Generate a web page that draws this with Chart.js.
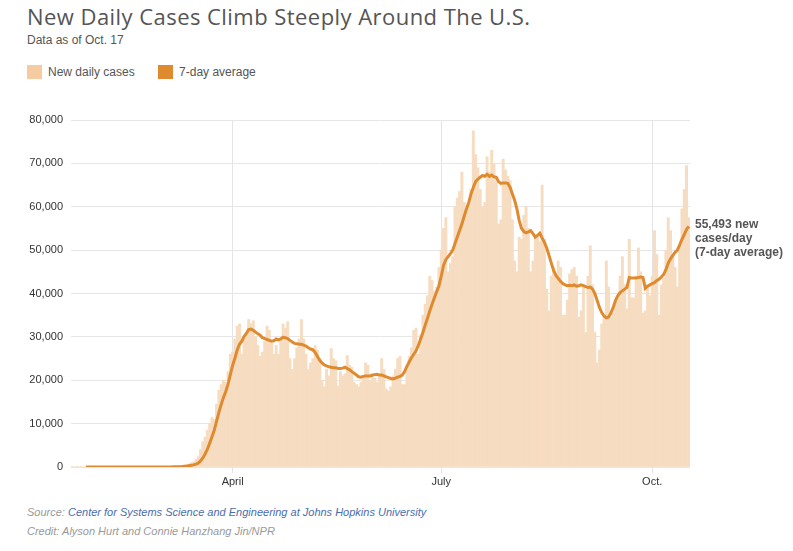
<!DOCTYPE html>
<html>
<head>
<meta charset="utf-8">
<script src="https://cdn.jsdelivr.net/npm/chart.js@4.4.1/dist/chart.umd.min.js"></script>
<style>
    body { margin: 0; background: #fff; font-family: "Liberation Sans", Arial, sans-serif; }
    #wrap { position: relative; width: 793px; height: 551px; overflow: hidden; }
    .title { position: absolute; left: 27px; top: 1px; font-family: "Open Sans", sans-serif; font-size: 22px; color: #555; letter-spacing: 0.45px; white-space: nowrap; }
    .sub { position: absolute; left: 27px; top: 33px; font-size: 12px; color: #555; }
    .legend { position: absolute; top: 65px; left: 27px; font-size: 12px; color: #555; }
    .legend span.sw { display: inline-block; width: 15px; height: 14px; vertical-align: -3px; margin-right: 6px; }
    .legend span.item { margin-right: 20px; }
    #chartBox { position: absolute; left: 0; top: 100px; width: 793px; height: 400px; }
    .note { position: absolute; left: 695px; top: 217px; font-size: 12px; font-weight: bold; color: #555; line-height: 14px; }
    .foot { position: absolute; left: 27px; font-size: 11px; font-style: italic; color: #999; }
    .foot a { color: #4a6db0; text-decoration: none; }
</style>
</head>
<body>
<div id="wrap">
    <div class="title">New Daily Cases Climb Steeply Around The U.S.</div>
    <div class="sub">Data as of Oct. 17</div>
    <div class="legend">
        <span class="item"><span class="sw" style="background:#f5cb9f"></span>New daily cases</span>
        <span class="item"><span class="sw" style="background:#e08a2f"></span>7-day average</span>
    </div>
    <div id="chartBox"><canvas id="chart"></canvas></div>
    <div class="note">55,493 new<br>cases/day<br>(7-day average)</div>
    <div class="foot" style="top:506px">Source: <a>Center for Systems Science and Engineering at Johns Hopkins University</a></div>
    <div class="foot" style="top:525px">Credit: Alyson Hurt and Connie Hanzhang Jin/NPR</div>
</div>
<script>
// daily new cases, Jan 22 - Oct 17 2020
const casesJanFeb = [1, 0, 1, 0, 3, 0, 0, 0, 0, 2,
    1, 0, 3, 0, 0, 0, 0, 0, 0, 1, 0, 1, 0, 0, 0, 0, 0, 0, 0, 0, 2, 0, 0, 0, 5, 6, 7, 8, 9];
const casesMar = [8, 23, 20, 31, 70, 75, 110, 120, 180, 290, 400, 520, 700, 950, 1150, 1800, 2400, 4000, 5800, 6900,
    8500, 10000, 11400, 11000, 14500, 17700, 19000, 20000, 19500, 22000, 26000];
const casesApr = [26500, 29500, 32500, 33000, 26000, 30000, 31000, 34000, 33000, 33700, 30000, 28000, 25500, 26500, 29000,
    32500, 31500, 28500, 26000, 28000, 26000, 30000, 33000, 32000, 33500, 25000, 22500, 25000, 27500, 29500];
const casesMay = [34000, 29500, 26000, 22500, 24000, 25000, 28000, 27000, 25000, 20000, 18500, 22500, 21000, 27300, 25000,
    24500, 18700, 22000, 21000, 21500, 25700, 23500, 23000, 19500, 19000, 18500, 19500, 20500, 24000, 23500, 20000];
const casesJun = [21000, 20500, 19500, 21000, 25000, 22500, 18000, 17500, 18500, 21000, 22500, 25000, 25500, 19000, 19000,
    23000, 25500, 27500, 31500, 32000, 26000, 30500, 35000, 37500, 39500, 44000, 43000, 40500, 41500, 46000];
const casesJul = [50000, 55000, 57500, 45000, 47000, 48500, 60000, 62000, 63500, 68000, 61000, 59000, 60500, 64000, 77500,
    72000, 69000, 64000, 60000, 61000, 71500, 68000, 73000, 70000, 66000, 56000, 57000, 71000, 68500, 67000, 66000];
const casesAug = [57000, 47500, 45000, 53000, 52500, 58000, 60000, 55000, 45000, 47500, 53500, 53000, 52000, 65000, 52500,
    41000, 36000, 44000, 46000, 44000, 47500, 46000, 35000, 35000, 38500, 44500, 45500, 46000, 44000, 34500, 36000];
const casesSep = [42000, 31000, 44000, 51000, 42000, 31000, 24000, 27000, 33000, 35000, 47500, 41500, 34500, 35500, 38500,
    39000, 44000, 48500, 42000, 36500, 52500, 39000, 39000, 44000, 50500, 45000, 35500, 36000, 42000, 39500];
const casesOct = [44000, 54500, 49000, 35000, 42000, 43500, 50000, 57500, 54500, 49000, 46000, 41500, 51000, 59500, 64000,
    69500, 57500];

// 7-day average line
const avgJanFeb = [null, null, null, null, null, null, 1, 1, 1, 1,
    1, 1, 1, 1, 1, 1, 1, 1, 1, 1, 1, 1, 1, 0, 0, 0, 0, 0, 0, 0, 0, 0, 0, 1, 1, 2, 3, 4, 5];
const avgMar = [3, 6, 8, 12, 20, 30, 45, 60, 80, 110, 160, 210, 290, 380, 480, 680, 900, 1400, 2100, 3000,
    4100, 5500, 7000, 8500, 10600, 12600, 14400, 16000, 17400, 19100, 21300];
const avgApr = [23400, 25100, 27000, 28300, 29000, 30100, 30800, 31700, 31800, 31500, 31100, 30700, 30400, 29800, 29600,
    29400, 29200, 29000, 29100, 29500, 29300, 29500, 29900, 29800, 29600, 29200, 28800, 28500, 28400, 28300];
const avgMay = [28300, 28100, 27900, 27500, 27200, 27000, 26400, 25500, 24600, 24000, 23500, 23300, 23100, 23000, 22900,
    22900, 22700, 22700, 22800, 23000, 22700, 22400, 22000, 21600, 21200, 20800, 20700, 20900, 21000, 21000, 21000];
const avgJun = [21200, 21300, 21400, 21200, 21200, 21000, 20800, 20600, 20400, 20300, 20500, 20700, 20900, 21200, 22000,
    23200, 24200, 25200, 26000, 26800, 28000, 29500, 31000, 32700, 34300, 36000, 37500, 39000, 40400, 41800];
const avgJul = [44000, 46500, 47800, 48500, 49200, 50000, 51500, 53000, 54500, 56000, 57800, 59500, 61000, 63000, 64500,
    65800, 66400, 66800, 67200, 67000, 67500, 67000, 67300, 66900, 66800, 65800, 65400, 65500, 65500, 65400, 64500];
const avgAug = [63000, 61500, 59500, 56800, 55000, 54300, 54000, 54200, 54500, 53800, 53000, 53400, 53900, 52800, 51800,
    50500, 48800, 47000, 45300, 44200, 43500, 42800, 42300, 42000, 41800, 41900, 41800, 42000, 41700, 41800, 42000];
const avgSep = [41800, 41600, 41400, 41500, 41000, 40000, 38400, 36800, 35600, 34800, 34400, 34600, 35500, 36800, 38400,
    39500, 40200, 40600, 41000, 41400, 43700, 43600, 43600, 43600, 43700, 43800, 43700, 41200, 41700, 42000];
const avgOct = [42300, 42500, 43000, 43300, 43800, 44400, 45500, 47000, 48000, 48800, 49500, 50000, 51200, 52500, 53600,
    54800, 55493];

// x-axis tick labels and the day they sit on
const tickLabels = ["April", "July", "Oct."];
const tickDays = ["2020-04-01", "2020-07-01", "2020-10-01"];

const dailyCases = [].concat(casesJanFeb, casesMar, casesApr, casesMay, casesJun, casesJul, casesAug, casesSep, casesOct);
const weeklyAvg = [].concat(avgJanFeb, avgMar, avgApr, avgMay, avgJun, avgJul, avgAug, avgSep, avgOct);

// one category per day starting Jan 22
const days = [];
const start = new Date(Date.UTC(2020, 0, 22));
for (let i = 0; i < dailyCases.length; i++) {
    const d = new Date(start.getTime() + i * 86400000);
    days.push(d.toISOString().slice(0, 10));
}

const axisFont = { family: "'Liberation Sans', Arial, sans-serif", size: 11 };

new Chart(document.getElementById('chart'), {
    data: {
        labels: days,
        datasets: [
            {
                type: 'line',
                label: '7-day average',
                data: weeklyAvg,
                borderColor: '#e08a2f',
                borderWidth: 3,
                pointRadius: 0,
                tension: 0,
                order: 1
            },
            {
                type: 'bar',
                label: 'New daily cases',
                data: dailyCases,
                backgroundColor: '#f6dcc0',
                barPercentage: 1,
                categoryPercentage: 1,
                order: 2
            }
        ]
    },
    options: {
        responsive: true,
        maintainAspectRatio: false,
        animation: false,
        layout: { padding: { top: 20, right: 103, left: 0, bottom: 0 } },
        plugins: { legend: { display: false }, tooltip: { enabled: false } },
        scales: {
            x: {
                offset: true,
                afterFit: axis => { axis.height = 33; },
                border: { display: false },
                grid: {
                    offset: false,
                    drawTicks: true,
                    tickLength: 6,
                    color: ctx => tickDays.includes(days[ctx.index]) ? '#e4e4e4' : 'rgba(0,0,0,0)'
                },
                ticks: {
                    autoSkip: false,
                    maxRotation: 0,
                    padding: 2,
                    color: '#333',
                    font: axisFont,
                    callback: (val, i) => {
                        const k = tickDays.indexOf(days[i]);
                        return k >= 0 ? tickLabels[k] : '';
                    }
                }
            },
            y: {
                min: 0,
                max: 80000,
                afterFit: axis => { axis.width = 71; },
                border: { display: false },
                grid: { color: '#e6e6e6', drawTicks: false },
                ticks: {
                    stepSize: 10000,
                    padding: 8,
                    color: '#333',
                    font: axisFont,
                    callback: v => v.toLocaleString('en-US')
                }
            }
        }
    }
});
</script>
</body>
</html>
